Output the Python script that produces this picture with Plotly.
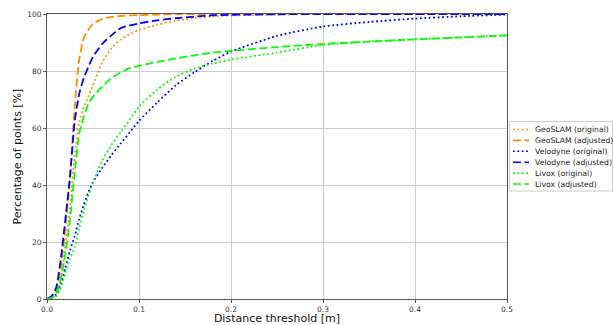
import plotly.graph_objects as go

thresholds = [0, 0.005, 0.01, 0.015, 0.02, 0.025, 0.03, 0.035, 0.04, 0.045, 0.05,
              0.06, 0.07, 0.08, 0.09, 0.1, 0.12, 0.14, 0.16, 0.18, 0.2,
              0.25, 0.3, 0.35, 0.4, 0.45, 0.5]

geoslam_original = [0, 0.3, 2, 7, 19, 32, 50, 62, 67.5, 71, 75,
                    83, 88, 91, 93, 94.4, 96.3, 97.6, 98.6, 99.2, 99.5,
                    99.8, 100, 100, 100, 100, 100]
geoslam_adjusted = [0, 0.5, 3, 11, 25, 42, 67, 84, 91.5, 94.5, 96.5,
                    98.2, 99, 99.3, 99.5, 99.6, 99.8, 99.9, 100, 100, 100,
                    100, 100, 100, 100, 100, 100]
velodyne_original = [0, 0.3, 1.5, 5, 11, 17, 22, 28, 33, 37.5, 41,
                     46, 50.5, 54.5, 58.5, 62.5, 69, 75, 79.5, 83.5, 86.8,
                     92.3, 95.6, 97.2, 98.4, 99.2, 99.8]
velodyne_adjusted = [0, 1, 4, 14, 28, 43, 62, 72, 77.5, 81.5, 85,
                     89.5, 92.5, 95, 96, 96.7, 97.8, 98.5, 99.1, 99.5, 99.7,
                     99.9, 100, 100, 100, 100, 100]
livox_original = [0, 0.2, 1, 4, 9, 14, 18, 25, 31, 36, 41,
                  48.5, 54, 58.5, 63, 67.5, 73.5, 78, 80.8, 82.6, 84,
                  86.5, 89.1, 90.3, 91.1, 91.8, 92.5]
livox_adjusted = [0, 0.3, 2, 7, 16, 28, 44, 58, 64, 68.5, 71,
                  74.5, 77.5, 79.5, 81, 81.8, 83.2, 84.4, 85.5, 86.4, 87.1,
                  88.4, 89.5, 90.3, 91.1, 91.8, 92.5]

series_names = ["GeoSLAM (original)", "GeoSLAM (adjusted)", "Velodyne (original)",
                "Velodyne (adjusted)", "Livox (original)", "Livox (adjusted)"]
series_values = [geoslam_original, geoslam_adjusted, velodyne_original,
                 velodyne_adjusted, livox_original, livox_adjusted]
series_colors = ["#ff8c00", "#ff8c00", "#0000ff", "#0000ff", "#00ff00", "#00ff00"]
series_styles = ["dot", "dash", "dot", "dash", "dot", "dash"]

dash_map = {"dot": "1.8px,2.6px", "dash": "8px,3.5px"}

# layout geometry (pixels)
W, H = 613, 325
ML, MR, MT, MB = 47, 106, 14, 26
PW, PH = W - ML - MR, H - MT - MB

def px_to_paper_x(px):
    return (px - ML) / PW

def px_to_paper_y(py):
    return (H - MB - py) / PH

fig = go.Figure()
for name, vals, color, style in zip(series_names, series_values, series_colors, series_styles):
    fig.add_trace(go.Scatter(
        x=thresholds, y=vals, mode="lines", name=name, showlegend=False,
        line=dict(color=color, width=1.8, dash=dash_map[style], shape="spline", smoothing=0.6),
    ))

# legend (drawn as a box with key lines and real text labels)
shapes = [dict(type="rect", xref="paper", yref="paper",
               x0=px_to_paper_x(509.5), x1=px_to_paper_x(612.5),
               y0=px_to_paper_y(191), y1=px_to_paper_y(121.5),
               line=dict(color="#cccccc", width=1), fillcolor="white", layer="above")]
annotations = []
for i, (name, color, style) in enumerate(zip(series_names, series_colors, series_styles)):
    py = 129.5 + i * 10.9
    shapes.append(dict(type="line", xref="paper", yref="paper",
                       x0=px_to_paper_x(513), x1=px_to_paper_x(529),
                       y0=px_to_paper_y(py), y1=px_to_paper_y(py),
                       line=dict(color=color, width=1.6, dash=dash_map[style]), layer="above"))
    annotations.append(dict(text=name, xref="paper", yref="paper",
                            x=px_to_paper_x(533), y=px_to_paper_y(py),
                            xanchor="left", yanchor="middle", showarrow=False,
                            font=dict(family="DejaVu Sans", size=7.7, color="#222222")))

axis_common = dict(
    showline=True, linecolor="#555555", linewidth=1, mirror=True,
    ticks="outside", ticklen=3, tickcolor="#555555",
    showgrid=True, gridcolor="#cccccc", gridwidth=1,
    zeroline=False, tickfont=dict(family="DejaVu Sans", size=7.5, color="#333333"),
)

fig.update_xaxes(range=[0, 0.5], tickvals=[0, 0.1, 0.2, 0.3, 0.4, 0.5],
                 ticktext=["0.0", "0.1", "0.2", "0.3", "0.4", "0.5"],
                 title=dict(text="Distance threshold [m]", standoff=4.5,
                            font=dict(family="DejaVu Sans", size=11, color="#111111")),
                 automargin=False, **axis_common)
fig.update_yaxes(range=[0, 100], tickvals=[0, 20, 40, 60, 80, 100],
                 title=dict(text="Percentage of points [%]", standoff=3,
                            font=dict(family="DejaVu Sans", size=11, color="#111111")),
                 automargin=False, **axis_common)

fig.update_layout(
    width=W, height=H,
    margin=dict(l=ML, r=MR, t=MT, b=MB, autoexpand=False),
    plot_bgcolor="white", paper_bgcolor="white",
    font=dict(family="DejaVu Sans"),
    shapes=shapes, annotations=annotations,
    showlegend=False,
)

fig.write_html("out.html", config={"displayModeBar": False},
               post_script="document.body.style.margin='0';document.body.style.overflow='hidden';")
